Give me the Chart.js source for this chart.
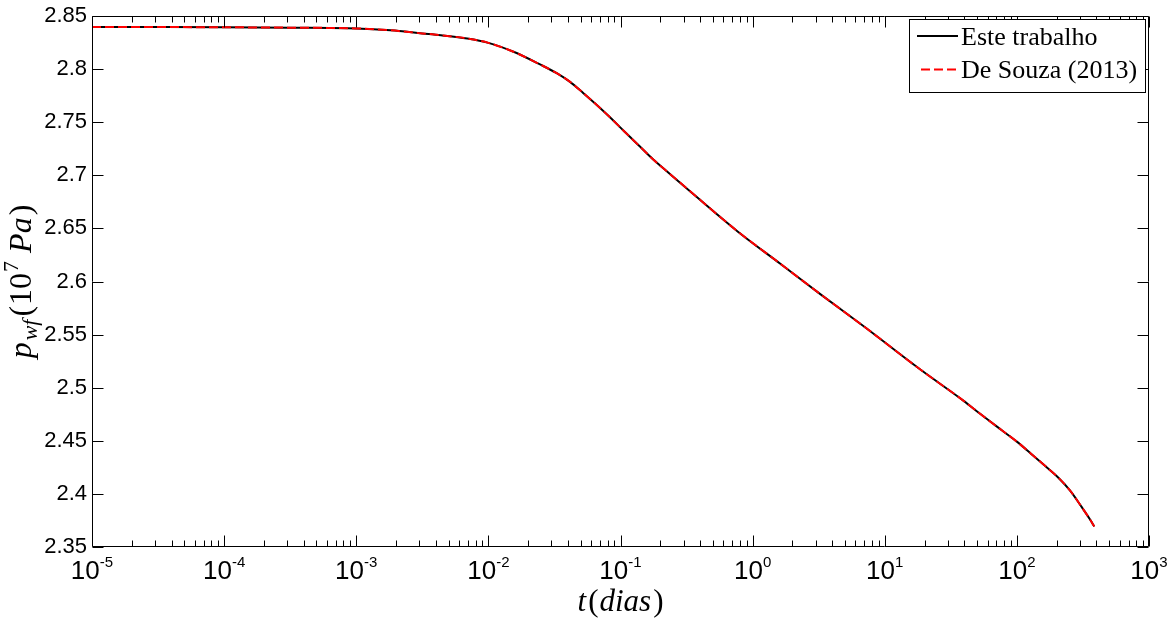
<!DOCTYPE html>
<html>
<head>
<meta charset="utf-8">
<script src="https://cdn.jsdelivr.net/npm/chart.js@4/dist/chart.umd.min.js"></script>
<style>
html,body{margin:0;padding:0;background:#fff;}
#wrap{width:1170px;height:623px;position:relative;}
</style>
</head>
<body>
<div id="wrap"><canvas id="c" width="1170" height="623"></canvas></div>
<script>
// ---- data ----
const tDays = [1e-5, 3.16e-5, 1e-4, 3.16e-4, 1e-3, 0.00182, 0.00316, 0.00437, 0.00692, 0.01,
  0.0155, 0.0246, 0.0329, 0.0415, 0.0524, 0.0681, 0.0859, 0.108, 0.141, 0.177, 0.224, 0.274,
  0.766, 1.63, 3.27, 6.97, 18.6, 39.8, 52.7, 76.9, 100, 126, 164, 207, 253, 310, 359, 385];
const pEsteTrabalho = [2.8397, 2.8396, 2.8394, 2.8390, 2.8383, 2.8365, 2.8336, 2.8319, 2.8288, 2.8247,
  2.8163, 2.8044, 2.7962, 2.7880, 2.7773, 2.7648, 2.7530, 2.7407, 2.7268, 2.7148, 2.7038, 2.6945,
  2.6474, 2.6165, 2.5879, 2.5576, 2.5171, 2.4874, 2.4754, 2.4599, 2.4492, 2.4386, 2.4262, 2.4150,
  2.4031, 2.3875, 2.3757, 2.3694];
const pDeSouza2013 = [2.8397, 2.8396, 2.8394, 2.8390, 2.8383, 2.8365, 2.8336, 2.8319, 2.8288, 2.8247,
  2.8163, 2.8044, 2.7962, 2.7880, 2.7773, 2.7648, 2.7530, 2.7407, 2.7268, 2.7148, 2.7038, 2.6945,
  2.6474, 2.6165, 2.5879, 2.5576, 2.5171, 2.4874, 2.4754, 2.4599, 2.4492, 2.4386, 2.4262, 2.4150,
  2.4031, 2.3875, 2.3757, 2.3694];
const seriesLabels = ['Este trabalho', 'De Souza (2013)'];
const yTickValues = [2.35, 2.4, 2.45, 2.5, 2.55, 2.6, 2.65, 2.7, 2.75, 2.8, 2.85];
const xTickExponents = ['-5', '-4', '-3', '-2', '-1', '0', '1', '2', '3'];

const SANS = '"Liberation Sans", Arial, Helvetica, sans-serif';
const SERIF = '"Liberation Serif", "Times New Roman", serif';

function drawRich(ctx, segs, x, y, align) {
  let total = 0;
  segs.forEach(s => { ctx.font = s.font; s.w = ctx.measureText(s.t).width; total += s.w + (s.gap || 0); });
  let cx = align === 'center' ? x - total / 2 : x;
  segs.forEach(s => {
    ctx.font = s.font;
    ctx.fillText(s.t, cx, y + (s.dy || 0));
    cx += s.w + (s.gap || 0);
  });
}

const axesPlugin = {
  id: 'matlabAxes',
  afterDatasetsDraw(chart) {
    const { ctx, chartArea: a, scales: { x, y } } = chart;
    const L = Math.round(a.left) + 0.5, R = Math.round(a.right) - 0.5;
    const T = Math.round(a.top) + 0.5, B = Math.round(a.bottom) - 0.5;
    ctx.save();
    ctx.strokeStyle = '#000';
    ctx.lineWidth = 1;
    ctx.beginPath();
    ctx.rect(L, T, R - L, B - T);
    // y ticks (inside, left and right)
    yTickValues.forEach(v => {
      const py = Math.round(y.getPixelForValue(v)) + 0.5;
      ctx.moveTo(L, py); ctx.lineTo(L + 11, py);
      ctx.moveTo(R, py); ctx.lineTo(R - 11, py);
    });
    // x ticks (log, inside, bottom and top)
    xTickExponents.forEach((e, i) => {
      const base = Math.pow(10, Number(e));
      const px = Math.round(x.getPixelForValue(base)) + 0.5;
      ctx.moveTo(px, B); ctx.lineTo(px, B - 11);
      ctx.moveTo(px, T); ctx.lineTo(px, T + 11);
      if (i < xTickExponents.length - 1) {
        for (let k = 2; k <= 9; k++) {
          const mx = Math.round(x.getPixelForValue(k * base)) + 0.5;
          ctx.moveTo(mx, B); ctx.lineTo(mx, B - 6);
          ctx.moveTo(mx, T); ctx.lineTo(mx, T + 6);
        }
      }
    });
    ctx.stroke();

    // x tick labels 10^e
    ctx.fillStyle = '#000';
    ctx.textBaseline = 'alphabetic';
    ctx.textAlign = 'left';
    xTickExponents.forEach(e => {
      const px = x.getPixelForValue(Math.pow(10, Number(e)));
      drawRich(ctx, [
        { t: '10', font: '26px ' + SANS },
        { t: e, font: '15px ' + SANS, dy: -12 }
      ], px, 579, 'center');
    });

    // x title: t(dias)
    const IT = 'italic 31px ' + SERIF, UP = '31px ' + SERIF;
    drawRich(ctx, [
      { t: 't', font: IT, gap: 2 },
      { t: '(', font: UP, gap: 1 },
      { t: 'dias', font: IT, gap: 2 },
      { t: ')', font: UP }
    ], (a.left + a.right) / 2, 611, 'center');

    // y title: p_wf (10^7 Pa), rotated
    ctx.save();
    ctx.translate(31, (a.top + a.bottom) / 2);
    ctx.rotate(-Math.PI / 2);
    const YI = 'italic 32px ' + SERIF, YU = '32px ' + SERIF;
    drawRich(ctx, [
      { t: 'p', font: YI, gap: 2 },
      { t: 'wf', font: 'italic 22px ' + SERIF, dy: 6, gap: 3 },
      { t: '(', font: YU, gap: 1 },
      { t: '10', font: YU, gap: 1 },
      { t: '7', font: '22px ' + SERIF, dy: -13, gap: 8 },
      { t: 'Pa', font: YI, gap: 2 },
      { t: ')', font: YU }
    ], 0, 0, 'center');
    ctx.restore();

    // legend box
    const lx = 909.5, ly = 19.5, lw = 236, lh = 73;
    ctx.fillStyle = '#fff';
    ctx.fillRect(lx, ly, lw, lh);
    ctx.strokeStyle = '#000';
    ctx.lineWidth = 1;
    ctx.strokeRect(lx, ly, lw, lh);
    const rows = [36, 69.5];
    const bases = [44.5, 77.5];
    chart.data.datasets.forEach((ds, i) => {
      ctx.save();
      ctx.strokeStyle = ds.borderColor;
      ctx.lineWidth = ds.borderWidth;
      ctx.setLineDash(ds.borderDash || []);
      ctx.beginPath();
      ctx.moveTo(i === 0 ? 917 : 921, rows[i]);
      ctx.lineTo(958, rows[i]);
      ctx.stroke();
      ctx.restore();
      ctx.fillStyle = '#000';
      ctx.font = '26px ' + SERIF;
      ctx.textAlign = 'left';
      ctx.fillText(ds.label, 961, bases[i]);
    });
    ctx.restore();
  }
};

const ctx = document.getElementById('c').getContext('2d');
new Chart(ctx, {
  type: 'line',
  data: {
    datasets: [
      {
        label: seriesLabels[0],
        data: tDays.map((t, i) => ({ x: t, y: pEsteTrabalho[i] })),
        borderColor: '#000000',
        borderWidth: 2,
        pointRadius: 0,
        cubicInterpolationMode: 'monotone',
        fill: false,
        order: 2
      },
      {
        label: seriesLabels[1],
        data: tDays.map((t, i) => ({ x: t, y: pDeSouza2013[i] })),
        borderColor: '#ff0000',
        borderWidth: 2,
        borderDash: [9, 4],
        pointRadius: 0,
        cubicInterpolationMode: 'monotone',
        fill: false,
        order: 1
      }
    ]
  },
  options: {
    responsive: false,
    animation: false,
    devicePixelRatio: 1,
    layout: { padding: { left: 0, right: 21, top: 12, bottom: 76 } },
    plugins: { legend: { display: false }, tooltip: { enabled: false } },
    scales: {
      x: {
        type: 'logarithmic',
        min: 1e-5,
        max: 1e3,
        display: false
      },
      y: {
        type: 'linear',
        min: 2.35,
        max: 2.85,
        afterFit(scale) { scale.width = 92; },
        grid: { display: false, drawTicks: false },
        border: { display: false },
        ticks: {
          stepSize: 0.05,
          padding: 5,
          color: '#000',
          font: { family: SANS, size: 22, lineHeight: 1 },
          callback: v => String(Number(Number(v).toFixed(2)))
        }
      }
    }
  },
  plugins: [axesPlugin]
});
</script>
</body>
</html>
